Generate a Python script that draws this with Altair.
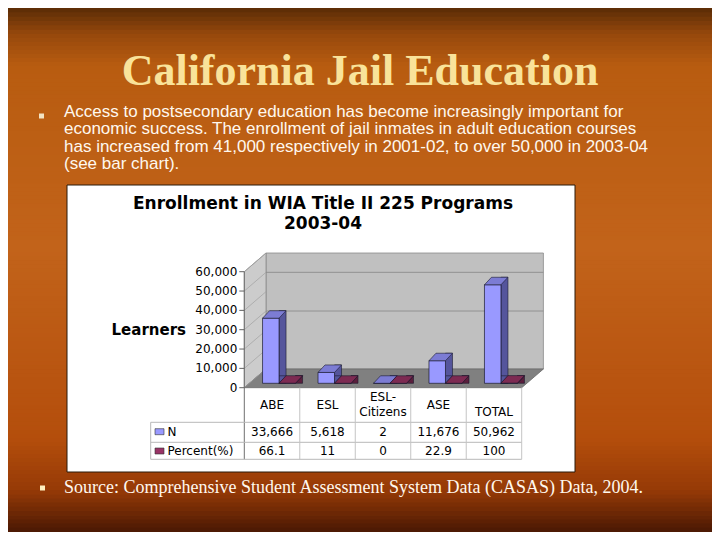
import altair as alt
import pandas as pd

# ---------------- data ----------------
categories = ["ABE", "ESL", "ESL-Citizens", "ASE", "TOTAL"]
header_labels = ["ABE", "ESL", "ESL-\nCitizens", "ASE", "TOTAL"]
n_values = [33666, 5618, 2, 11676, 50962]
pct_values = [66.1, 11, 0, 22.9, 100]
y_ticks = [0, 10000, 20000, 30000, 40000, 50000, 60000]
grid_values = [30000, 50000]

slide_title = "California Jail Education"
bullet_text = ("Access to postsecondary education has become increasingly important for\n"
               "economic success.  The enrollment of jail inmates in adult education courses\n"
               "has increased from 41,000 respectively in 2001-02, to over 50,000 in 2003-04\n"
               "(see bar chart).")
chart_title = "Enrollment in WIA Title II 225 Programs"
chart_subtitle = "2003-04"
source_text = "Source:  Comprehensive Student Assessment System Data (CASAS) Data, 2004."
row_labels = ["N", "Percent(%)"]

df = pd.DataFrame({"cat": categories, "label": header_labels, "n": n_values, "pct": pct_values})
ticks = pd.DataFrame({"t": y_ticks})
grid = pd.DataFrame({"g": grid_values})
one = pd.DataFrame({"a": [0]})

# ---------------- layout (chart px) ----------------
W, H = 704, 524
Y0, Y60 = 375.3, 259.3          # value 0 / 60000 at bar depth
FRONT, BACK = 4.4, -14.3        # offsets of front axis / back wall
XL, XR = 236.3, 513.7           # table columns / floor front
BW = (XR - XL) / len(categories)
WALL_DX = 21.7
DX, DY = 7, 7.5                  # bar depth
EDGE = "#1a1a2e"
FONT = "DejaVu Sans"

XS = alt.Scale(type="band", domain=categories, range=[XL, XR], paddingInner=0, paddingOuter=0)
YS = alt.Scale(domain=[0, 60000], range=[Y0, Y60], nice=False, zero=True)
XB = alt.X("cat:N", scale=XS, axis=None)


def YF(f):
    return alt.Y(f"{f}:Q", scale=YS, axis=None, stack=None)


def val_rect(x1, x2, y1, y2, **kw):
    return alt.Chart(one).mark_rect(**kw).encode(
        x=alt.value(x1), x2=alt.value(x2), y=alt.value(y1), y2=alt.value(y2))


def shape_abs(path, **kw):
    return alt.Chart(one).mark_point(shape=path, size=4, filled=True, opacity=1, **kw).encode(
        x=alt.value(0), y=alt.value(0))


def rule_abs(x1, y1, x2, y2, color, w=1.0):
    return alt.Chart(one).mark_rule(color=color, strokeWidth=w).encode(
        x=alt.value(x1), x2=alt.value(x2), y=alt.value(y1), y2=alt.value(y2))


def text_abs(s, x, y, **kw):
    return alt.Chart(one).mark_text(text=s, **kw).encode(x=alt.value(x), y=alt.value(y))


def mix(c1, c2, t):
    a = [int(c1[i:i + 2], 16) for i in (1, 3, 5)]
    b = [int(c2[i:i + 2], 16) for i in (1, 3, 5)]
    return "#" + "".join(f"{round(a[k] + (b[k] - a[k]) * t):02x}" for k in range(3))


layers = []

# background: banded vertical gradient
stops = [(0, "#5a2c06"), (26, "#96480c"), (58, "#b85c10"), (240, "#c2631a"),
         (430, "#b44e0c"), (482, "#963a06"), (H, "#4a1804")]
layers.append(val_rect(0, W, 0, H, fill="#c0621a"))
for (ya, ca), (yb, cb) in zip(stops[:-1], stops[1:]):
    nb = max(1, int((yb - ya) / 4))
    for k in range(nb):
        y1 = ya + (yb - ya) * k / nb
        y2 = ya + (yb - ya) * (k + 1) / nb
        layers.append(val_rect(0, W, y1, y2 + 0.6, fill=mix(ca, cb, (k + 0.5) / nb)))

# white chart box
layers.append(val_rect(59, 567, 177, 464, fill="white", stroke="#2a1a0a", strokeWidth=1))

# walls and floor
y_back0 = Y0 + BACK
y_back60 = Y60 + BACK
y_front0 = Y0 + FRONT
y_front60 = Y60 + FRONT
xb = XL + WALL_DX
layers.append(val_rect(xb, XR + WALL_DX, y_back60, y_back0, fill="#c0c0c0", stroke="#8a8a8a", strokeWidth=0.8))
layers.append(shape_abs(f"M{XL},{y_front60} L{xb},{y_back60} L{xb},{y_back0} L{XL},{y_front0} Z",
                        fill="#cccccc", stroke="#8a8a8a", strokeWidth=0.8))
layers.append(shape_abs(f"M{XL},{y_front0} L{xb},{y_back0} L{XR + WALL_DX},{y_back0} L{XR},{y_front0} Z",
                        fill="#808080", stroke="#6a6a6a", strokeWidth=0.8))

# gridlines
layers.append(alt.Chart(ticks).mark_rule(color="#a0a0a0", strokeWidth=0.7, yOffset=FRONT, y2Offset=BACK).encode(
    x=alt.value(XL), x2=alt.value(xb), y=YF("t"), y2=alt.Y2("t")))
layers.append(alt.Chart(grid).mark_rule(color="#8c8c8c", strokeWidth=0.9, yOffset=BACK).encode(
    x=alt.value(xb), x2=alt.value(XR + WALL_DX), y=YF("g")))

# axis line, ticks, labels
layers.append(rule_abs(XL, y_front60, XL, 451.3, "#707070", 1))
layers.append(alt.Chart(ticks).mark_rule(color="#606060", strokeWidth=1, yOffset=FRONT).encode(
    x=alt.value(XL - 5), x2=alt.value(XL), y=YF("t")))
layers.append(alt.Chart(ticks).mark_text(align="right", baseline="middle", font=FONT, fontSize=12,
                                         color="black", yOffset=FRONT).encode(
    x=alt.value(XL - 7), y=YF("t"), text=alt.Text("t:Q", format=",")))
layers.append(text_abs("Learners", 178, 322, align="right", baseline="middle", font=FONT,
                       fontSize=15, fontWeight="bold", color="black"))


# 3D bars
def bar3d(field, left, right, front, side, top):
    base = alt.Chart(df)
    w = right - left
    out = [
        base.mark_bar(width=DX, xOffset=right + DX / 2, yOffset=-DY, y2Offset=-DY,
                      fill=side, stroke=EDGE, strokeWidth=0.6).encode(x=XB, y=YF(field)),
        base.mark_point(shape=f"M{right},0 L{right},{-DY} L{right + DX},{-DY} Z", size=4, filled=True,
                        opacity=1, fill=side, stroke=EDGE, strokeWidth=0.6).encode(x=XB, y=alt.value(Y0)),
        base.mark_bar(width=w, xOffset=(left + right) / 2, fill=front, stroke=EDGE,
                      strokeWidth=0.7).encode(x=XB, y=YF(field)),
        base.mark_point(shape=f"M{left},0 L{right},0 L{right + DX},{-DY} L{left + DX},{-DY} Z", size=4,
                        filled=True, opacity=1, fill=top, stroke=EDGE, strokeWidth=0.6).encode(x=XB, y=YF(field)),
    ]
    return out


layers += bar3d("n", -9.5, 7.0, "#9999ff", "#55559c", "#7c7cd4")
layers += bar3d("pct", 7.0, 23.5, "#993366", "#5a1e3c", "#7d2a52")

# table lines
TL = 142.7
for yy in (414.3, 434.3, 451.3):
    layers.append(rule_abs(TL, yy, XR, yy, "#b8b8b8", 1))
layers.append(rule_abs(TL, 414.3, TL, 451.3, "#b8b8b8", 1))
layers.append(alt.Chart(df).mark_rule(color="#c4c4c4", strokeWidth=1, xOffset=BW / 2).encode(
    x=XB, y=alt.value(y_front0), y2=alt.value(451.3)))

# table header
hdr = dict(baseline="middle", align="center", font=FONT, fontSize=12, color="black")
layers.append(alt.Chart(df).transform_filter(
    (alt.datum.cat != "TOTAL") & (alt.datum.cat != "ESL-Citizens")).mark_text(**hdr).encode(
    x=XB, y=alt.value(396.5), text="label:N"))
layers.append(alt.Chart(df).transform_filter(alt.datum.cat == "ESL-Citizens").mark_text(
    lineBreak="\n", lineHeight=15, **hdr).encode(x=XB, y=alt.value(389), text="label:N"))
layers.append(alt.Chart(df).transform_filter(alt.datum.cat == "TOTAL").mark_text(**hdr).encode(
    x=XB, y=alt.value(404), text="label:N"))

# table rows
layers.append(alt.Chart(df).mark_text(**hdr).encode(
    x=XB, y=alt.value(423.7), text=alt.Text("n:Q", format=",")))
layers.append(alt.Chart(df).mark_text(**hdr).encode(
    x=XB, y=alt.value(443), text=alt.Text("pct:Q", format="~g")))
layers.append(val_rect(147, 156, 420.7, 426.7, fill="#9999ff", stroke="#333333", strokeWidth=0.6))
layers.append(val_rect(147, 156, 440, 446, fill="#993366", stroke="#333333", strokeWidth=0.6))
layers.append(text_abs(row_labels[0], 159.5, 423.7, align="left", baseline="middle", font=FONT,
                       fontSize=12, color="black"))
layers.append(text_abs(row_labels[1], 159.5, 443, align="left", baseline="middle", font=FONT,
                       fontSize=12, color="black"))

# chart titles
layers.append(text_abs(chart_title, 315, 196, align="center", baseline="middle", font=FONT,
                       fontSize=17, fontWeight="bold", color="black"))
layers.append(text_abs(chart_subtitle, 315, 215.5, align="center", baseline="middle", font=FONT,
                       fontSize=17, fontWeight="bold", color="black"))

# slide texts
layers.append(text_abs(slide_title, 352, 77, align="center", baseline="alphabetic",
                       font="Liberation Serif", fontSize=44, fontWeight="bold", color="#f9e39a"))
layers.append(alt.Chart(one).mark_point(shape="square", size=25, filled=True, opacity=1,
                                        color="#f3e3c3").encode(x=alt.value(33.5), y=alt.value(108)))
layers.append(text_abs(bullet_text, 56, 108.5, align="left", baseline="alphabetic",
                       font="Liberation Sans", fontSize=17, color="#fff8ee", lineBreak="\n",
                       lineHeight=17.5))
layers.append(alt.Chart(one).mark_point(shape="square", size=25, filled=True, opacity=1,
                                        color="#fff0c0").encode(x=alt.value(34.5), y=alt.value(480)))
layers.append(text_abs(source_text, 56, 484.5, align="left", baseline="alphabetic",
                       font="Liberation Serif", fontSize=18, color="#fff8ee"))

chart = alt.layer(*layers).properties(
    width=W, height=H,
    autosize=alt.AutoSizeParams(type="fit", contains="padding"),
    padding=0,
    background="#b85c10",
).configure_view(stroke=None)

chart.save("out.html", embed_options={"renderer": "svg", "actions": False})
